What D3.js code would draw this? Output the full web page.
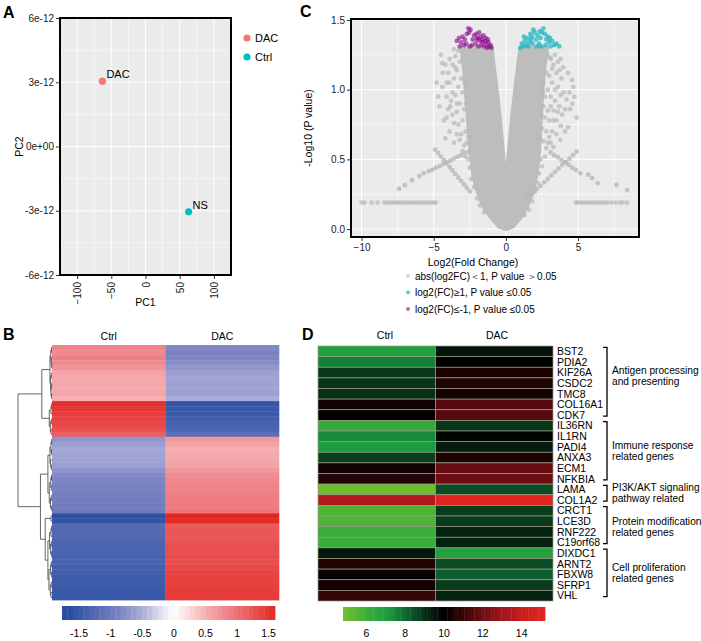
<!DOCTYPE html>
<html><head><meta charset="utf-8">
<script src="https://cdn.jsdelivr.net/npm/d3@7"></script>
<style>body{margin:0;background:#fff}svg{font-family:"Liberation Sans",Arial,sans-serif}</style>
</head><body><svg id="fig" width="701" height="641"></svg>
<script>
// ================= DATA =================
// Panel A: PCA
const pcaSamples = ["DAC", "NS"];
const pcaGroups = ["DAC", "Ctrl"];
const pcaPC1 = [-63, 63];
const pcaPC2 = [3.05e-12, -3.05e-12];
const pcaXTicks = [-100, -50, 0, 50, 100];
const pcaXMinor = [-75, -25, 25, 75];
const pcaYTicks = [-6e-12, -3e-12, 0, 3e-12, 6e-12];
const pcaYTickLabels = ["-6e-12", "-3e-12", "0e+00", "3e-12", "6e-12"];
const pcaYMinor = [-4.5e-12, -1.5e-12, 1.5e-12, 4.5e-12];

// Panel C: volcano
const volcanoXTicks = [-10, -5, 0, 5];
const volcanoXMinor = [-7.5, -2.5, 2.5, 7.5];
const volcanoYTicks = [0, 0.5, 1, 1.5];
const volcanoYMinor = [0.25, 0.75, 1.25];
// outline of the saturated (fully overlapping) grey point cloud
const volcanoCore = [
  [0,0.0],[-0.5,0.02],[-1.0,0.08],[-1.5,0.15],[-1.9,0.25],[-2.25,0.38],[-2.45,0.55],[-2.6,0.75],[-2.75,0.95],[-2.9,1.15],[-3.1,1.3],
  [-1.0,1.3],[-0.7,1.05],[-0.43,0.8],[-0.2,0.55],[0,0.3],[0.2,0.55],[0.43,0.8],[0.7,1.05],[1.0,1.3],
  [2.85,1.3],[2.65,1.15],[2.5,0.95],[2.4,0.75],[2.3,0.55],[2.1,0.38],[1.8,0.25],[1.4,0.15],[1.0,0.08],[0.5,0.02]
];
const volcanoGray = [
  [2.6,1.28],[2.9,1.25],[3.1,1.22],[2.7,1.2],[3.3,1.18],[2.8,1.12],[3.0,1.1],[3.5,1.12],[2.6,1.05],[3.2,1.05],[2.9,1.0],[3.6,1.02],
  [2.7,0.95],[3.1,0.95],[3.4,0.92],[2.6,0.88],[2.9,0.85],[3.3,0.85],[3.7,0.88],[2.7,0.8],[3.0,0.78],[3.5,0.78],[2.5,0.72],[2.8,0.7],
  [3.2,0.7],[2.6,0.63],[2.9,0.62],[2.4,0.5],[2.5,0.45],[2.3,0.4],[2.2,0.33],[2.0,0.27],[1.8,0.2],[1.6,0.14],[1.3,0.1],[2.7,0.52],
  [3.07,1.23],[3.6,1.2],[3.97,1.16],[4.58,1.07],[4.67,1.02],[4.2,0.93],[4.9,0.8],[4.3,0.73],[3.77,0.64],[3.28,0.59],[4.0,0.98],
  [3.9,0.82],[4.45,0.86],[3.85,1.08],[4.1,0.7],
  [3.4,1.25],[3.8,1.22],[3.2,1.15],[3.7,1.14],[4.3,1.12],[3.4,1.0],[3.8,0.96],[4.4,0.98],[3.1,0.88],[3.6,0.84],[4.1,0.86],
  [3.3,0.78],[3.8,0.74],[4.6,0.9],[3.0,0.66],[3.5,0.68],[2.8,0.58],[3.1,0.62],[4.75,0.95],[2.55,0.98],[2.45,0.82],[2.35,0.65],
  [-3.3,1.28],[-3.5,1.24],[-3.2,1.2],[-3.7,1.18],[-3.4,1.14],[-3.1,1.08],[-3.6,1.08],[-3.9,1.05],[-3.3,1.02],[-3.0,0.98],[-3.5,0.96],
  [-3.8,0.92],[-3.2,0.9],[-2.9,0.86],[-3.4,0.84],[-3.7,0.82],[-3.0,0.78],[-3.3,0.75],[-2.8,0.7],[-3.1,0.68],[-2.7,0.62],[-2.9,0.6],
  [-2.6,0.5],[-2.5,0.44],[-2.4,0.36],[-2.2,0.3],[-2.0,0.22],[-1.8,0.17],[-1.5,0.12],[-4.4,1.19],[-4.1,0.95],[-4.6,0.88],[-4.0,1.12],
  [-4.3,0.78],[-3.9,0.7],[-4.8,1.05],[-4.2,0.65],[-3.6,0.62],[-4.5,1.25],[-4.37,1.12],[-3.85,0.88],
  [-3.6,1.29],[-3.9,1.22],[-4.2,1.18],[-3.5,1.16],[-4.1,1.05],[-3.7,0.98],[-4.4,1.02],[-3.4,0.9],[-4.0,0.86],[-3.6,0.76],[-4.1,0.8],
  [-3.2,0.64],[-3.4,0.68],[-3.0,0.56],[-2.8,0.52],[-4.7,0.95],[-2.85,1.05],[-2.75,0.9],[-2.6,0.66]
];
const volcanoStreaks = [
  [-4.9,0.57],[-4.7,0.545],[-4.5,0.52],[-4.3,0.495],[-4.1,0.47],[-3.9,0.445],[-3.7,0.42],[-3.5,0.395],[-3.3,0.37],[-3.1,0.345],[-2.9,0.32],[-2.7,0.295],[-2.5,0.27],
  [-2.6,0.555],[-2.85,0.545],[-3.1,0.53],[-3.35,0.52],[-3.6,0.505],[-3.85,0.49],[-4.1,0.48],[-4.35,0.465],[-4.6,0.45],[-4.85,0.44],[-5.1,0.425],[-5.35,0.415],[-5.7,0.40],[-6.0,0.38],[-6.5,0.35],[-7.0,0.315],[-7.4,0.29],
  [1.4,0.215],[1.65,0.24],[1.9,0.265],[2.15,0.29],[2.4,0.31],[2.65,0.335],[2.9,0.36],[3.15,0.385],[3.4,0.41],[3.65,0.435],[3.9,0.46],[4.15,0.48],[4.4,0.505],[4.65,0.53],[4.9,0.555],
  [3.1,0.55],[3.35,0.53],[3.6,0.515],[3.85,0.495],[4.1,0.48],[4.35,0.46],[4.6,0.44],[4.85,0.425],[5.15,0.40],[5.7,0.39],[5.97,0.365],[6.36,0.33],[7.66,0.316],[8.4,0.28]
];
const volcanoFlatX = [-10,-9.8,-9.3,-8.9,-8.4,-8.2,-8.0,-7.8,-7.6,-7.4,-7.2,-7.0,-6.8,-6.6,-6.4,-6.2,-6.0,-5.8,-5.6,-5.4,-5.2,-5.0,-4.85,
  4.85,5.0,5.2,5.4,5.6,5.8,6.0,6.2,6.4,6.6,6.8,7.0,7.3,7.6,7.9,8.1,8.4];
const volcanoFlatY = 0.19;
const volcanoDown = [
  [-3.4,1.35],[-3.25,1.37],[-3.1,1.34],[-3.0,1.38],[-2.85,1.36],[-2.7,1.40],[-2.6,1.44],[-2.55,1.41],[-2.45,1.43],[-2.75,1.33],
  [-2.5,1.31],[-2.3,1.36],[-2.2,1.39],[-2.05,1.40],[-1.95,1.37],[-1.85,1.41],[-1.75,1.38],[-1.65,1.36],[-1.55,1.39],[-1.45,1.35],
  [-1.35,1.33],[-1.25,1.36],[-1.15,1.31],[-1.05,1.32],[-1.0,1.30],[-1.3,1.30],[-1.5,1.31],[-1.7,1.32],[-1.9,1.31],[-2.1,1.33],
  [-1.6,1.34],[-1.4,1.37],[-1.2,1.34],[-1.8,1.35],[-2.0,1.36],[-2.35,1.32],[-2.9,1.32],[-3.2,1.31]
];
const volcanoUp = [
  [1.0,1.30],[1.1,1.33],[1.2,1.31],[1.3,1.35],[1.4,1.32],[1.5,1.37],[1.6,1.34],[1.7,1.40],[1.8,1.38],[1.9,1.43],[2.0,1.41],
  [2.1,1.36],[2.2,1.39],[2.3,1.33],[2.4,1.37],[2.5,1.41],[2.6,1.44],[2.7,1.40],[2.8,1.36],[2.9,1.38],[3.0,1.34],[3.1,1.31],
  [3.2,1.35],[3.35,1.32],[3.5,1.33],[3.7,1.31],[1.25,1.38],[1.55,1.31],[1.85,1.33],[2.15,1.31],[2.45,1.31],[2.75,1.32],
  [3.05,1.37],[2.35,1.42],[1.75,1.36]
];
const volcanoLegend = ["abs(log2FC)\uFF1C1, P value \uFF1E0.05", "log2(FC)\u22651, P value \u22640.05", "log2(FC)\u2264-1, P value \u22640.05"];

// Panel B: clustered heatmap (row z-scores)
const heatCols = ["Ctrl", "DAC"];
const clusterCtrl = [
  0.85,0.80,0.88,0.78,0.72,0.58,0.55,0.56,0.54,0.57,0.50,
  1.55,1.50,1.45,1.40,1.35,1.28,1.15,
  -0.70,-0.62,-0.55,-0.58,-0.60,-0.62,-0.72,-0.80,-0.85,-0.88,-0.90,-0.92,-0.95,-0.98,-1.00,
  -1.62,-1.58,
  -1.25,-1.28,-1.25,-1.30,-1.32,-1.35,-1.38,-1.35,-1.40,-1.42,-1.45,-1.45,-1.48,-1.50,-1.50
];
const clusterDAC = [
  -0.82,-0.90,-0.85,-0.78,-0.70,-0.62,-0.58,-0.60,-0.58,-0.62,-0.52,
  -1.55,-1.50,-1.48,-1.42,-1.38,-1.30,-1.18,
  0.68,0.60,0.52,0.55,0.58,0.60,0.70,0.78,0.82,0.85,0.85,0.88,0.90,0.92,0.95,
  1.65,1.60,
  1.20,1.22,1.20,1.25,1.28,1.30,1.32,1.30,1.35,1.38,1.40,1.40,1.42,1.45,1.45
];
// dendrogram: [mergeHeight, left, right]; 0 = leaf (rows in order)
const L = 0;
const clusterTree = [10,
  [3.0,
    [0.6, [0.35, [0.15, L, L], [0.2, L, [0.1, L, L]]], [0.4, [0.2, L, L], [0.3, [0.1, L, L], [0.15, L, L]]]],
    [0.8, [0.3, [0.1, L, L], L], [0.5, [0.2, L, L], [0.25, L, L]]]],
  [3.4,
    [1.2, [0.6, [0.3, [0.1, L, L], [0.15, L, L]], [0.4, L, [0.2, L, L]]], [0.8, [0.35, [0.15, L, L], [0.2, L, L]], [0.45, [0.2, L, L], [0.1, L, L]]]],
    [2.0, [0.3, L, L],
      [1.2, [0.7, [0.3, [0.1, L, L], L], [0.4, [0.2, L, L], [0.15, L, L]]], [0.9, [0.4, [0.2, L, L], [0.1, L, L]], [0.5, [0.25, L, L], [0.3, L, L]]]]]]
];
const clusterBarTicks = [-1.5, -1, -0.5, 0, 0.5, 1, 1.5];

// Panel D: gene expression heatmap
const genes = ["BST2","PDIA2","KIF26A","CSDC2","TMC8","COL16A1","CDK7","IL36RN","IL1RN","PADI4","ANXA3","ECM1","NFKBIA",
  "LAMA","COL1A2","CRCT1","LCE3D","RNF222","C19orf68","DIXDC1","ARNT2","FBXW8","SFRP1","VHL"];
const geneCtrl = [7.0,7.6,8.9,8.9,9.0,10.3,10.0,6.2,7.4,7.1,8.7,10.3,10.7,5.0,13.5,5.6,5.6,6.1,6.0,9.5,10.6,10.1,10.4,11.0];
const geneDAC  = [9.6,10.0,10.5,10.6,10.4,11.6,11.6,8.9,9.9,9.4,10.5,11.9,12.0,8.5,15.0,8.8,8.8,9.3,9.3,6.9,8.5,8.2,8.8,9.3];
const geneGroupNames = [["Antigen processing","and presenting"],["Immune response","related genes"],["PI3K/AKT signaling","pathway related"],["Protein modification","related genes"],["Cell proliferation","related genes"]];
const geneGroupSizes = [7, 6, 2, 4, 5];
const geneBarTicks = [6, 8, 10, 12, 14];

// ================= DRAWING =================
const svg = d3.select("#fig");
const FONT = "Liberation Sans, Arial, sans-serif";
function letter(t, x, y) {
  svg.append("text").attr("x", x).attr("y", y).text(t).attr("font-size", 16).attr("font-weight", "bold").attr("fill", "#000");
}
function styleAxis(g) {
  g.select(".domain").remove();
  g.selectAll(".tick line").attr("stroke", "#333").attr("stroke-width", 1);
  g.selectAll(".tick text").attr("fill", "#1a1a1a").attr("font-size", 10).attr("font-family", FONT);
}

// ---------- Panel A ----------
{
  const P = {x0: 60, x1: 231, y0: 18, y1: 275};
  const x = d3.scaleLinear().domain([-125, 125]).range([P.x0, P.x1]);
  const y = d3.scaleLinear().domain([-6e-12, 6e-12]).range([P.y1, P.y0]);
  const g = svg.append("g");
  g.append("rect").attr("x", P.x0).attr("y", P.y0).attr("width", P.x1 - P.x0).attr("height", P.y1 - P.y0).attr("fill", "#ebebeb");
  g.selectAll(".mnx").data(pcaXMinor).join("line").attr("x1", d => x(d)).attr("x2", d => x(d)).attr("y1", P.y0).attr("y2", P.y1).attr("stroke", "#fff").attr("stroke-width", 0.5);
  g.selectAll(".mny").data(pcaYMinor).join("line").attr("y1", d => y(d)).attr("y2", d => y(d)).attr("x1", P.x0).attr("x2", P.x1).attr("stroke", "#fff").attr("stroke-width", 0.5);
  g.selectAll(".mjx").data(pcaXTicks).join("line").attr("x1", d => x(d)).attr("x2", d => x(d)).attr("y1", P.y0).attr("y2", P.y1).attr("stroke", "#fff").attr("stroke-width", 1);
  g.selectAll(".mjy").data(pcaYTicks).join("line").attr("y1", d => y(d)).attr("y2", d => y(d)).attr("x1", P.x0).attr("x2", P.x1).attr("stroke", "#fff").attr("stroke-width", 1);
  const col = d3.scaleOrdinal().domain(pcaGroups).range(["#F8766D", "#00BFC4"]);
  pcaSamples.forEach((s, i) => {
    g.append("circle").attr("cx", x(pcaPC1[i])).attr("cy", y(pcaPC2[i])).attr("r", 3.6).attr("fill", col(pcaGroups[i]));
    g.append("text").attr("x", x(pcaPC1[i]) + 4).attr("y", y(pcaPC2[i]) - 3).text(s).attr("font-size", 11).attr("fill", "#000");
  });
  g.append("rect").attr("x", P.x0).attr("y", P.y0).attr("width", P.x1 - P.x0).attr("height", P.y1 - P.y0).attr("fill", "none").attr("stroke", "#000").attr("stroke-width", 2);
  const ya = g.append("g").attr("transform", `translate(${P.x0 - 1},0)`)
    .call(d3.axisLeft(y).tickValues(pcaYTicks).tickFormat((d, i) => pcaYTickLabels[i]).tickSize(3).tickPadding(2));
  styleAxis(ya);
  const xa = g.append("g").attr("transform", `translate(0,${P.y1 + 1})`)
    .call(d3.axisBottom(x).tickValues(pcaXTicks).tickFormat(d3.format("d")).tickSize(3));
  styleAxis(xa);
  xa.selectAll(".tick text").attr("transform", "rotate(-90)").attr("x", -6).attr("y", 0).attr("dy", "0.35em").style("text-anchor", "end");
  g.append("text").attr("x", (P.x0 + P.x1) / 2).attr("y", 306).attr("text-anchor", "middle").attr("font-size", 10.5).text("PC1");
  g.append("text").attr("transform", `translate(23,${(P.y0 + P.y1) / 2}) rotate(-90)`).attr("text-anchor", "middle").attr("font-size", 10.5).text("PC2");
  // legend
  pcaGroups.forEach((grp, i) => {
    g.append("circle").attr("cx", 247).attr("cy", 38 + i * 19).attr("r", 3.6).attr("fill", col(grp));
    g.append("text").attr("x", 255).attr("y", 38 + i * 19).attr("dy", "0.35em").attr("font-size", 11).text(grp);
  });
  letter("A", 3, 18);
}

// ---------- Panel C ----------
{
  const P = {x0: 351, x1: 639, y0: 19, y1: 237};
  const x = d3.scaleLinear().domain([-10.73, 9.22]).range([P.x0, P.x1]);
  const y = d3.scaleLinear().domain([-0.057, 1.507]).range([P.y1, P.y0]);
  const g = svg.append("g");
  g.append("rect").attr("x", P.x0).attr("y", P.y0).attr("width", P.x1 - P.x0).attr("height", P.y1 - P.y0).attr("fill", "#ebebeb");
  g.selectAll(".mnx").data(volcanoXMinor).join("line").attr("x1", d => x(d)).attr("x2", d => x(d)).attr("y1", P.y0).attr("y2", P.y1).attr("stroke", "#fff").attr("stroke-width", 0.5);
  g.selectAll(".mny").data(volcanoYMinor).join("line").attr("y1", d => y(d)).attr("y2", d => y(d)).attr("x1", P.x0).attr("x2", P.x1).attr("stroke", "#fff").attr("stroke-width", 0.5);
  g.selectAll(".mjx").data(volcanoXTicks).join("line").attr("x1", d => x(d)).attr("x2", d => x(d)).attr("y1", P.y0).attr("y2", P.y1).attr("stroke", "#fff").attr("stroke-width", 1);
  g.selectAll(".mjy").data(volcanoYTicks).join("line").attr("y1", d => y(d)).attr("y2", d => y(d)).attr("x1", P.x0).attr("x2", P.x1).attr("stroke", "#fff").attr("stroke-width", 1);
  const grey = "#bdbdbd";
  const line = d3.line().x(d => x(d[0])).y(d => y(d[1]));
  g.append("path").attr("d", line(volcanoCore) + "Z").attr("fill", grey).attr("stroke", grey).attr("stroke-width", 4).attr("stroke-linejoin", "round");
  const pts = (data, fill, op) => g.append("g").selectAll("circle").data(data).join("circle")
    .attr("cx", d => x(d[0])).attr("cy", d => y(d[1])).attr("r", 2.4).attr("fill", fill).attr("fill-opacity", op);
  pts(volcanoGray, "#b8b8b8", 0.7);
  pts(volcanoStreaks, "#b8b8b8", 0.8);
  pts(volcanoFlatX.map(v => [v, volcanoFlatY]), "#b8b8b8", 0.7);
  pts(volcanoDown, "#8b008b", 0.6);
  pts(volcanoUp, "#16b3bf", 0.7);
  g.append("rect").attr("x", P.x0).attr("y", P.y0).attr("width", P.x1 - P.x0).attr("height", P.y1 - P.y0).attr("fill", "none").attr("stroke", "#000").attr("stroke-width", 2);
  const ya = g.append("g").attr("transform", `translate(${P.x0 - 1},0)`)
    .call(d3.axisLeft(y).tickValues(volcanoYTicks).tickFormat(d3.format(".1f")).tickSize(3).tickPadding(2));
  styleAxis(ya);
  const xa = g.append("g").attr("transform", `translate(0,${P.y1 + 1})`)
    .call(d3.axisBottom(x).tickValues(volcanoXTicks).tickFormat(d3.format("d")).tickSize(3).tickPadding(3));
  styleAxis(xa);
  g.append("text").attr("x", 473).attr("y", 266).attr("text-anchor", "middle").attr("font-size", 10.5).text("Log2(Fold Change)");
  g.append("text").attr("transform", `translate(312,${(P.y0 + P.y1) / 2}) rotate(-90)`).attr("text-anchor", "middle").attr("font-size", 10.5).text("-Log10 (P value)");
  const legCols = ["#d9d9d9", "#6cc8cf", "#b86bb8"];
  volcanoLegend.forEach((t, i) => {
    g.append("circle").attr("cx", 408).attr("cy", 276 + i * 16.5).attr("r", 2).attr("fill", legCols[i]);
    g.append("text").attr("x", 415).attr("y", 276 + i * 16.5).attr("dy", "0.35em").attr("font-size", 10).text(t);
  });
  letter("C", 300, 17);
}

// ---------- Panel B ----------
{
  const n = clusterCtrl.length;
  const x = d3.scaleBand().domain(heatCols).range([52, 279]);
  const y = d3.scaleBand().domain(d3.range(n)).range([345, 600]);
  const color = d3.scaleLinear().domain([-1.65, -0.85, -0.55, 0, 0.55, 0.85, 1.65])
    .range(["#2a4ea3", "#7d85c3", "#a5a7d5", "#ffffff", "#f4a9ac", "#ee8389", "#e3241f"]).clamp(true);
  const g = svg.append("g");
  const cells = [];
  for (let i = 0; i < n; i++) { cells.push({r: i, c: "Ctrl", v: clusterCtrl[i]}); cells.push({r: i, c: "DAC", v: clusterDAC[i]}); }
  g.selectAll("rect.cell").data(cells).join("rect").attr("class", "cell")
    .attr("x", d => x(d.c)).attr("y", d => y(d.r)).attr("width", x.bandwidth() + 0.3).attr("height", y.bandwidth() + 0.4)
    .attr("fill", d => color(d.v));
  heatCols.forEach(c => g.append("text").attr("x", x(c) + x.bandwidth() / 2).attr("y", 340).attr("text-anchor", "middle").attr("font-size", 10.5).text(c));
  // dendrogram
  let leaf = 0;
  function build(node) {
    if (node === 0) { const i = leaf++; return {h: 0, y: y(i) + y.bandwidth() / 2}; }
    const a = build(node[1]), b = build(node[2]);
    return {h: node[0], kids: [a, b], y: (a.y + b.y) / 2};
  }
  const root = build(clusterTree);
  const dx = d3.scaleLinear().domain([0, clusterTree[0]]).range([52, 18]);
  const segs = [];
  (function walk(nd) {
    if (!nd.kids) return;
    const xx = dx(nd.h);
    segs.push(`M${xx},${nd.kids[0].y}V${nd.kids[1].y}`);
    nd.kids.forEach(k => { segs.push(`M${xx},${k.y}H${dx(k.h)}`); walk(k); });
  })(root);
  g.append("path").attr("d", segs.join("")).attr("fill", "none").attr("stroke", "#555").attr("stroke-width", 0.9);
  // colour bar
  const bx = d3.scaleLinear().domain([-1.77, 1.6]).range([62, 275]);
  const steps = 40, st = (1.6 + 1.77) / steps;
  g.selectAll("rect.bar").data(d3.range(steps)).join("rect").attr("class", "bar")
    .attr("x", i => bx(-1.77 + i * st)).attr("y", 606).attr("width", bx(-1.77 + st) - bx(-1.77) + 0.4).attr("height", 14)
    .attr("fill", i => color(-1.77 + (i + 0.5) * st));
  g.selectAll("text.bt").data(clusterBarTicks).join("text").attr("class", "bt")
    .attr("x", d => bx(d)).attr("y", 637).attr("text-anchor", "middle").attr("font-size", 10.5).text(d => String(d));
  letter("B", 3, 340);
}

// ---------- Panel D ----------
{
  const x = d3.scaleBand().domain(heatCols).range([318, 553]);
  const y = d3.scaleBand().domain(genes).range([346, 601]);
  const color = d3.scaleLinear()
    .domain([4.8, 6, 7, 8, 9, 10, 11, 12, 13, 14, 15.2])
    .range(["#74c02c", "#3aae3a", "#1fa040", "#0f6a33", "#073018", "#000000", "#350607", "#6e0e12", "#a0161b", "#c81e1f", "#e3261f"])
    .clamp(true);
  const g = svg.append("g");
  const cells = [];
  genes.forEach((gn, i) => { cells.push({g: gn, c: "Ctrl", v: geneCtrl[i]}); cells.push({g: gn, c: "DAC", v: geneDAC[i]}); });
  g.selectAll("rect.cell").data(cells).join("rect").attr("class", "cell")
    .attr("x", d => x(d.c)).attr("y", d => y(d.g)).attr("width", x.bandwidth()).attr("height", y.bandwidth())
    .attr("fill", d => color(d.v)).attr("stroke", "#9c9c82").attr("stroke-width", 0.7);
  g.append("text").attr("x", 385).attr("y", 339).attr("text-anchor", "middle").attr("font-size", 10.5).text(heatCols[0]);
  g.append("text").attr("x", 497).attr("y", 339).attr("text-anchor", "middle").attr("font-size", 10.5).text(heatCols[1]);
  g.selectAll("text.gene").data(genes).join("text").attr("class", "gene")
    .attr("x", 557).attr("y", d => y(d) + y.bandwidth() / 2).attr("dy", "0.36em").attr("font-size", 10.5).text(d => d);
  // brackets
  let start = 0;
  const shift = [-6, 0, 0, 2, 0];
  geneGroupSizes.forEach((sz, k) => {
    const y1 = y(genes[start]) + y.bandwidth() / 2 - 4;
    const y2 = y(genes[start + sz - 1]) + y.bandwidth() / 2 + 1;
    g.append("path").attr("d", `M603,${y1}H607V${y2}H603`).attr("fill", "none").attr("stroke", "#000").attr("stroke-width", 1.3);
    const mid = (y1 + y2) / 2 + shift[k];
    geneGroupNames[k].forEach((t, j) => g.append("text").attr("x", 612).attr("y", mid + (j - 0.5) * 11).attr("dy", "0.35em").attr("font-size", 10.2).text(t));
    start += sz;
  });
  // colour bar
  const bx = d3.scaleLinear().domain([4.8, 15.2]).range([343, 545]);
  const steps = 60, st = (15.2 - 4.8) / steps;
  g.selectAll("rect.bar").data(d3.range(steps)).join("rect").attr("class", "bar")
    .attr("x", i => bx(4.8 + i * st)).attr("y", 607).attr("width", bx(4.8 + st) - bx(4.8) + 0.4).attr("height", 14)
    .attr("fill", i => color(4.8 + (i + 0.5) * st));
  g.selectAll("text.bt").data(geneBarTicks).join("text").attr("class", "bt")
    .attr("x", d => bx(d)).attr("y", 637).attr("text-anchor", "middle").attr("font-size", 10.5).text(d => String(d));
  letter("D", 302, 340);
}
</script></body></html>
